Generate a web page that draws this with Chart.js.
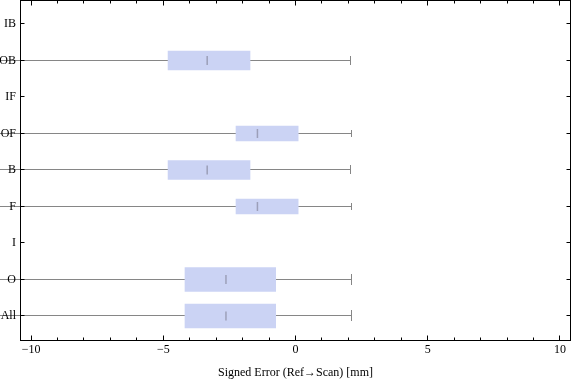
<!DOCTYPE html>
<html>
<head>
<meta charset="utf-8">
<script src="https://cdn.jsdelivr.net/npm/chart.js@4.4.1/dist/chart.umd.min.js"></script>
<style>
  html, body { margin: 0; padding: 0; background: #fff; }
  #wrap { width: 576px; height: 381px; }
</style>
</head>
<body>
<div id="wrap"><canvas id="chart"></canvas></div>
<script>
// rows, top to bottom
const categories = ["IB", "OB", "IF", "OF", "B", "F", "I", "O", "All"];
// box-whisker stats in mm (null = empty row)
const q1        = [null, -4.82, null, -2.25, -4.82, -2.25, null, -4.18, -4.18];
const medians   = [null, -3.34, null, -1.44, -3.34, -1.44, null, -2.63, -2.63];
const q3        = [null, -1.72, null,  0.10, -1.72,  0.10, null, -0.75, -0.75];
const whiskerHi = [null,  2.08, null,  2.13,  2.08,  2.13, null,  2.11,  2.11];
const whiskerLo = [null, -12,   null, -12,   -12,   -12,   null, -12,   -12]; // runs off the left edge
const xTicks = [-10, -5, 0, 5, 10];
const xTitle = "Signed Error (Ref\u2192Scan) [mm]";

// box heights (px) per row
const boxPx = { OB: 19, OF: 15, B: 19, F: 15, O: 24, All: 24 };
const boxColor = "#cbd3f4";
const whiskerColor = "#868686";

Chart.defaults.font.family = '"Liberation Serif", "Times New Roman", serif';
Chart.defaults.font.size = 12;
Chart.defaults.color = "#000";

// one bar dataset per box height
const groups = {};
categories.forEach((c, i) => {
  if (q1[i] == null) return;
  const t = boxPx[c];
  (groups[t] = groups[t] || []).push({ x: [q1[i], q3[i]], y: i });
});
const boxSets = Object.keys(groups).map((t) => ({
  type: "bar",
  indexAxis: "y",
  order: 1,
  data: groups[t],
  barThickness: +t,
  grouped: false,
  backgroundColor: boxColor,
  borderWidth: 0,
}));

const medianSet = {
  type: "scatter",
  order: 0,
  data: categories.map((c, i) => (medians[i] == null ? null : { x: medians[i], y: i })).filter(Boolean),
  pointStyle: "line",
  rotation: 90,
  radius: 4.5,
  borderWidth: 1.5,
  borderColor: "rgba(125,125,145,0.6)",
};

// whisker lines + caps, drawn first so labels and boxes sit on top
const whiskers = {
  id: "whiskers",
  beforeDraw(chart) {
    const { ctx, scales: { x, y } } = chart;
    ctx.save();
    ctx.strokeStyle = whiskerColor;
    ctx.lineWidth = 1;
    ctx.beginPath();
    categories.forEach((c, i) => {
      if (q1[i] == null) return;
      const py = Math.floor(y.getPixelForValue(i)) + 0.5;
      const cap = Math.round(boxPx[c] * 0.47) / 2;
      const hi = Math.floor(x.getPixelForValue(whiskerHi[i])) + 0.5;
      ctx.moveTo(x.getPixelForValue(whiskerLo[i]), py);
      ctx.lineTo(x.getPixelForValue(q1[i]), py);
      ctx.moveTo(x.getPixelForValue(q3[i]), py);
      ctx.lineTo(hi, py);
      ctx.moveTo(hi, py - cap);
      ctx.lineTo(hi, py + cap);
    });
    ctx.stroke();
    ctx.restore();
  },
};

// frame with inward ticks on all four sides
const frame = {
  id: "frame",
  afterDatasetsDraw(chart) {
    const { ctx, chartArea: a, scales: { x, y } } = chart;
    const L = a.left + 0.5, R = a.right - 0.5, T = a.top + 0.5, B = a.bottom - 0.5;
    ctx.save();
    ctx.strokeStyle = "#000";
    ctx.lineWidth = 1;
    ctx.strokeRect(L, T, R - L, B - T);
    ctx.beginPath();
    for (let v = xTicks[0]; v <= xTicks[xTicks.length - 1]; v++) {
      const px = Math.floor(x.getPixelForValue(v)) + 0.5;
      const len = xTicks.includes(v) ? 5 : 3;
      ctx.moveTo(px, B); ctx.lineTo(px, B - len);
      ctx.moveTo(px, T); ctx.lineTo(px, T + len);
    }
    categories.forEach((c, i) => {
      const py = Math.floor(y.getPixelForValue(i)) + 0.5;
      ctx.moveTo(L, py); ctx.lineTo(L + 4, py);
      ctx.moveTo(R, py); ctx.lineTo(R - 4, py);
    });
    ctx.stroke();
    ctx.restore();
  },
};

new Chart(document.getElementById("chart"), {
  type: "bar",
  data: { datasets: [...boxSets, medianSet] },
  options: {
    responsive: true,
    maintainAspectRatio: false,
    animation: false,
    events: [],
    layout: { autoPadding: false, padding: { left: 0, right: 5, top: 0, bottom: 0 } },
    plugins: { legend: { display: false }, tooltip: { enabled: false } },
    scales: {
      x: {
        type: "linear",
        position: "bottom",
        min: -10.42,
        max: 10.42,
        offset: false,
        afterBuildTicks: (s) => { s.ticks = xTicks.map((v) => ({ value: v })); },
        afterFit: (s) => { s.height = 40; s.paddingLeft = 0; s.paddingRight = 0; },
        grid: { display: false, drawTicks: false, offset: false },
        border: { display: false },
        ticks: {
          padding: 2,
          maxRotation: 0,
          autoSkip: false,
          callback: (v) => (v < 0 ? "\u2212" + -v : String(v)),
        },
        title: { display: true, text: xTitle, padding: { top: 0, bottom: 1 } },
      },
      y: {
        type: "linear",
        position: "left",
        min: -0.6575,
        max: 8.685,
        reverse: true,
        offset: false,
        afterBuildTicks: (s) => { s.ticks = categories.map((c, i) => ({ value: i })); },
        afterFit: (s) => { s.width = 20; s.paddingTop = 0; s.paddingBottom = 0; },
        grid: { display: false, drawTicks: false, offset: false },
        border: { display: false },
        ticks: { padding: 4, autoSkip: false, callback: (v) => categories[v] },
      },
    },
  },
  plugins: [whiskers, frame],
});
</script>
</body>
</html>
